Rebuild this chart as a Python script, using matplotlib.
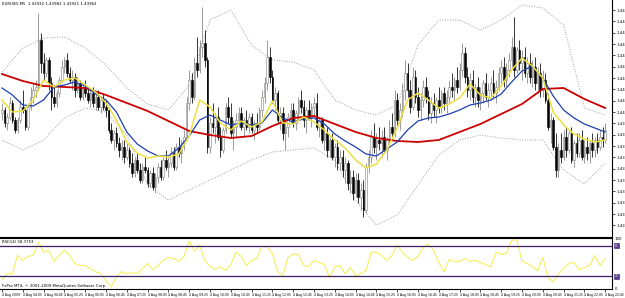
import numpy as np
import matplotlib
matplotlib.use("Agg")
import matplotlib.pyplot as plt

# EURUSD M5, 4 Aug 2009 -- prices stored as pips above BASE
BASE = 1.4300
PIP = 0.0001

opens_pips = [101,102,98,100,104,99,96,99,103,102,
              97,103,106,108,109,123,116,113,117,110,
              106,104,107,111,115,117,113,111,112,108,
              110,106,109,107,105,107,104,106,103,105,
              103,102,96,93,95,92,90,91,88,90,
              86,83,87,84,81,85,84,80,83,79,
              82,85,82,87,85,86,89,85,91,89,
              92,94,104,111,106,116,114,121,122,117,
              91,98,97,100,94,90,96,103,100,95,
              97,99,101,97,99,97,100,96,98,97,
              102,106,110,118,112,105,107,99,101,95,
              97,100,102,98,101,105,103,99,102,100,
              103,104,97,99,93,95,90,93,88,91,
              86,88,84,86,80,82,77,81,76,78,
              72,85,88,94,91,93,92,94,90,93,
              97,95,105,99,102,108,113,108,103,112,
              106,102,105,109,106,101,104,102,105,103,
              107,104,106,109,108,111,109,114,119,112,
              108,111,106,109,105,107,110,106,108,110,
              107,109,113,115,111,114,117,121,114,120,
              116,118,113,116,112,115,110,113,108,111,
              105,97,99,91,84,90,88,94,90,95,
              87,92,89,93,88,91,89,92,90,93,
              91,94,93]
highs_pips = [104,103,101,106,105,100,100,105,108,103,
              104,109,110,111,131,125,119,118,118,112,
              109,108,112,117,118,119,115,114,113,112,
              111,110,111,109,108,109,107,108,106,107,
              105,103,98,96,97,94,93,93,92,91,
              89,88,89,86,86,88,85,84,85,83,
              86,87,88,90,88,91,91,92,94,93,
              96,106,114,113,118,124,123,133,126,118,
              100,104,101,103,97,97,104,106,104,99,
              101,103,103,100,102,101,101,99,101,103,
              108,112,123,121,114,109,108,103,103,99,
              101,104,104,102,106,108,105,103,105,104,
              106,107,100,100,97,97,94,95,92,93,
              90,90,88,87,84,84,83,83,80,81,
              86,90,96,98,95,97,96,97,94,99,
              101,108,107,104,110,117,116,111,115,114,
              109,107,111,112,108,106,107,106,109,108,
              109,108,111,113,112,115,116,122,121,115,
              113,114,110,112,109,111,113,110,112,114,
              111,115,117,118,116,119,124,130,121,123,
              120,121,118,119,117,118,115,116,114,113,
              107,101,100,95,92,95,96,97,96,97,
              93,95,95,96,93,94,93,95,94,95,
              96,97,98]
lows_pips = [99,97,96,99,98,95,95,98,101,96,
             96,102,104,106,108,113,111,112,108,102,
             103,103,106,110,113,112,110,108,106,107,
             105,105,106,104,103,103,102,102,101,102,
             100,95,92,90,91,88,87,86,87,85,
             82,82,83,80,80,83,79,79,78,77,
             80,81,81,84,82,85,84,84,88,86,
             90,93,102,104,105,112,113,118,115,89,
             89,95,92,93,88,89,95,98,94,90,
             94,97,96,94,96,95,95,93,95,96,
             100,104,108,110,104,102,98,96,93,90,
             94,98,97,96,99,101,97,95,99,97,
             100,96,94,92,90,88,88,87,85,84,
             84,82,80,78,77,75,76,74,72,70,
             71,83,86,89,87,90,88,89,87,92,
             93,94,97,96,100,105,106,101,102,104,
             100,99,103,104,99,98,100,98,101,101,
             102,101,104,106,105,107,108,112,110,106,
             105,104,103,103,102,104,105,103,105,106,
             104,108,110,109,109,112,115,112,113,114,
             111,112,110,110,109,108,107,106,106,104,
             96,92,90,82,82,86,87,88,89,86,
             85,88,88,87,86,87,86,88,88,89,
             90,91,92]
closes_pips = [102,98,100,104,99,96,99,103,102,97,
               103,106,108,109,123,116,113,117,110,106,
               104,107,111,115,117,113,111,112,108,110,
               106,109,107,105,107,104,106,103,105,103,
               102,96,93,95,92,90,91,88,90,86,
               83,87,84,81,85,84,80,83,79,82,
               85,82,87,85,86,89,85,91,89,92,
               94,104,111,106,116,114,121,122,117,91,
               98,97,100,94,90,96,103,100,95,97,
               99,101,97,99,97,100,96,98,97,102,
               106,110,118,112,105,107,99,101,95,97,
               100,102,98,101,105,103,99,102,100,103,
               104,97,99,93,95,90,93,88,91,86,
               88,84,86,80,82,77,81,76,78,72,
               85,88,94,91,93,92,94,90,93,97,
               95,105,99,102,108,113,108,103,112,106,
               102,105,109,106,101,104,102,105,103,107,
               104,106,109,108,111,109,114,119,112,108,
               111,106,109,105,107,110,106,108,110,107,
               109,113,115,111,114,117,121,114,120,116,
               118,113,116,112,115,110,113,108,111,105,
               97,99,91,84,90,88,94,90,95,87,
               92,89,93,88,91,89,92,90,93,91,
               94,93,96]

# moving averages (sampled every 4 bars) and bands / slow MA (every 8 bars)
ma_fast_pips = [105,101.4,101.7,105,111,108.9,111,111.6,109.5,107.4,104.1,99,92.4,89.1,87.6,
                88.2,87.9,88.8,94.2,105,102.9,98.1,96,98.7,96.9,98.4,104.7,98.1,97.8,99.9,
                98.4,96,93,90.6,87,84.6,85.8,90,96.6,105,107.1,105,102.6,103.8,105.6,
                109.8,106.5,105.6,109.2,114,117.6,115.2,111.6,101.4,97.5,94.8,93.3,92.4,93]
ma_mid_pips = [108.6,106.5,103.5,103.2,105,108.9,109.5,110.4,109.2,106.8,105,101.4,95.4,91.8,89.7,
               88.2,88.2,90.6,94.2,99,100.5,99,97.5,98.1,97.5,98.1,102,99.6,98.4,99.3,
               99.6,97.8,94.8,92.7,90.9,88.8,88.2,90.3,92.4,96,98.7,99.6,99.9,100.8,102,
               103.5,104.1,105,106.8,110.4,113.7,115.2,111.6,106.2,102,99.6,97.8,96.6,95.4]
ma_slow_pips = [112.8,110.7,109.2,108.9,108.6,106.5,104.1,101.7,98.7,95.7,94.5,93.6,94.2,97.2,99.6,
                100.2,97.8,95.4,93.6,92.7,92.4,93.0,95.4,97.8,100.8,103.8,108.3,108.6,105.3,102.6]
band_up_pips = [113.4,120.6,123.6,123.9,120.6,115.5,108.6,103.8,102,109.5,129,132,121.5,117,116.4,
                114,105,102,100.5,103.5,121.5,129,129,126,129,133.5,132.6,127.5,102.6,100.5]
band_lo_pips = [93,90,93,99.6,102.6,101.4,94.5,79.5,75,78,81,84,87,89.4,90,
                90.6,87,75,67.5,70.5,79.5,88.5,93,94.5,93.6,93,93,84,79.8,86.1]

# RSI sampled every 2 bars
rsi_vals = [18,30,30,66,56,64,66,92,72,76,54,66,76,66,50,46,46,40,34,30,16,4,24,34,30,32,30,40,50,38,
            46,56,62,60,54,64,94,74,86,56,44,38,44,36,48,72,64,46,56,60,84,82,70,34,26,62,68,68,46,44,
            56,52,48,22,44,46,30,42,26,30,36,72,72,66,56,66,86,72,62,56,64,82,88,76,52,34,58,54,54,60,
            54,56,52,48,44,72,68,70,96,96,54,50,44,36,62,22,14,30,40,50,52,38,42,46,66,46,60]
rsi_levels = [85, 25]

price_ticks = [1.44320,1.44286,1.44252,1.44218,1.44184,1.44150,1.44116,1.44082,1.44048,1.44014,
               1.43980,1.43946,1.43912,1.43878,1.43844,1.43810,1.43776,1.43742,1.43708,1.43674]
time_labels = ["4 Aug 2009","4 Aug 04:05","4 Aug 04:45","4 Aug 05:25","4 Aug 06:05","4 Aug 06:45",
               "4 Aug 07:25","4 Aug 08:05","4 Aug 08:45","4 Aug 09:25","4 Aug 10:05","4 Aug 10:45",
               "4 Aug 11:25","4 Aug 12:05","4 Aug 12:45","4 Aug 13:25","4 Aug 14:05","4 Aug 14:45",
               "4 Aug 15:25","4 Aug 16:05","4 Aug 16:45","4 Aug 17:25","4 Aug 18:05","4 Aug 18:45",
               "4 Aug 19:25","4 Aug 20:05","4 Aug 20:45","4 Aug 21:25","4 Aug 22:05","4 Aug 22:45"]
header = "EURUSD,M5  1.43932 1.43982 1.43921 1.43962"
rsi_header = "RSI(14) 58.3753"
copyright_txt = "FxPro MT4, \u00a9 2001-2009 MetaQuotes Software Corp."

def px(v):
    return BASE + np.asarray(v, dtype=float) * PIP

o = px(opens_pips); h = px(highs_pips); l = px(lows_pips); c = px(closes_pips)
n = len(c)
idx = np.arange(n)

W, H = 625, 298
fig = plt.figure(figsize=(W / 100, H / 100), dpi=100)
fig.patch.set_facecolor("white")
right = 612 / W
ax = fig.add_axes([0, 1 - 237 / H, right, 237 / H])
axr = fig.add_axes([0, 1 - 289 / H, right, 51 / H])

FS = 2.8
FSX = 2.25
# --- candles
up = c >= o
ax.vlines(idx[up], l[up], h[up], color="#808080", lw=0.55, zorder=2)
ax.vlines(idx[~up], l[~up], h[~up], color="black", lw=0.55, zorder=2)
ax.bar(idx[up], np.maximum(c - o, 0.3 * PIP)[up], bottom=o[up], width=0.62,
       color="white", edgecolor="#808080", lw=0.4, zorder=3)
ax.bar(idx[~up], (o - c)[~up], bottom=c[~up], width=0.62,
       color="black", edgecolor="black", lw=0.4, zorder=3)

x4 = np.arange(0, n, 4)
x8 = np.arange(0, n, 8)
dots = (0, (1, 1.6))
ax.plot(x8, px(band_up_pips), color="#a0a0a0", lw=0.7, ls=dots, zorder=1)
ax.plot(x8, px(band_lo_pips), color="#a0a0a0", lw=0.7, ls=dots, zorder=1)
ax.plot(x8, px(ma_slow_pips), color="#cc0000", lw=1.3, zorder=4)
ax.plot(x4, px(ma_mid_pips), color="#1f3fb0", lw=0.9, zorder=5)
ax.plot(x4, px(ma_fast_pips), color="#ece040", lw=1.1, zorder=6)

xl = (-2 / 2.6, (612 - 2) / 2.6)
ax.set_xlim(*xl)
ax.set_ylim(BASE + 63.9 * PIP, BASE + 135 * PIP)
ax.yaxis.tick_right()
ax.set_yticks(price_ticks)
ax.set_yticklabels([f"{t:.5f}" for t in price_ticks])
ax.tick_params(axis="y", labelsize=FS, length=2, width=0.5, pad=1)
ax.set_xticks([])
for s in ["top", "left"]:
    ax.spines[s].set_visible(False)
ax.spines["right"].set_linewidth(0.8)
ax.spines["bottom"].set_linewidth(0.8)
ax.text(0.004, 0.992, header, transform=ax.transAxes, fontsize=FS, va="top", ha="left")

# --- RSI
xr = np.arange(0, n, 2)
axr.plot(xr, rsi_vals, color="#f6f060", lw=0.8)
for lev in rsi_levels:
    axr.axhline(lev, color="#3c1c6c", lw=0.9)
    axr.annotate(f"{lev}", xy=(1.0, lev), xycoords=("axes fraction", "data"),
                 xytext=(2.0, 0), textcoords="offset points", fontsize=2.2, color="white",
                 va="center", ha="left",
                 bbox=dict(boxstyle="square,pad=0.15", fc="#5a3a8a", ec="#3c1c6c", lw=0.4))
axr.set_xlim(*xl)
axr.set_ylim(0, 100)
axr.yaxis.tick_right()
axr.set_yticks([0, 100])
axr.set_yticklabels(["0", "100"])
axr.tick_params(axis="y", labelsize=FS, length=0, pad=2)
axr.set_xticks(np.arange(0, n, 8))
axr.set_xticklabels(time_labels, ha="left")
axr.tick_params(axis="x", labelsize=FSX, length=2, width=0.5, pad=1)
axr.spines["left"].set_visible(False)
for s in ["top", "right", "bottom"]:
    axr.spines[s].set_linewidth(0.8)
axr.text(0.004, 0.97, rsi_header, transform=axr.transAxes, fontsize=FS, va="top", ha="left")
axr.text(0.004, 0.02, copyright_txt, transform=axr.transAxes, fontsize=FS, va="bottom", ha="left")

fig.savefig("out.png", dpi=100, facecolor="white")
